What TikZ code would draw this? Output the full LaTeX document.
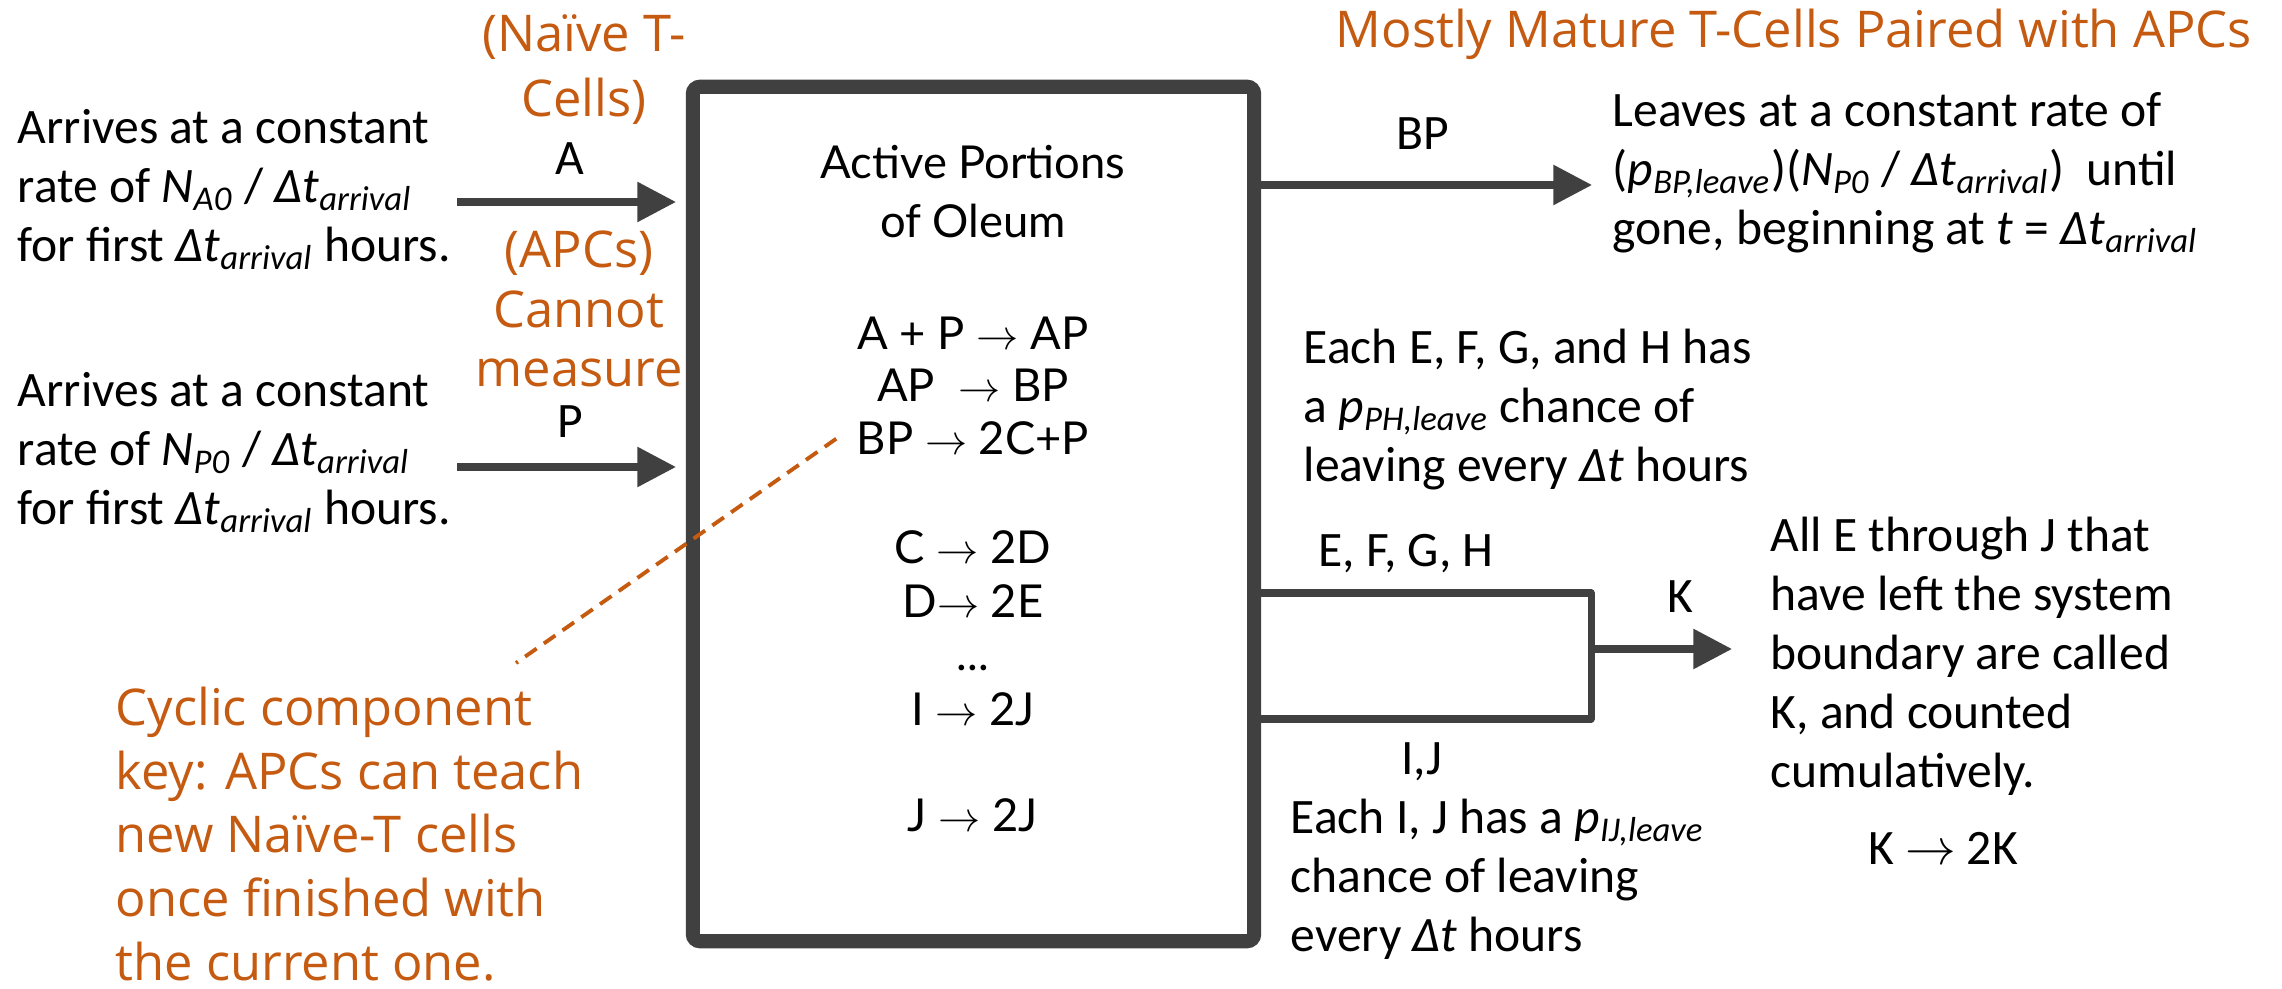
\documentclass[tikz,border=0pt]{standalone}
\usepackage{fontspec}
\setmainfont{Carlito}
\newfontfamily\orfont{Open Sans}
\newfontfamily\bxfont{Lato}
\usetikzlibrary{positioning,arrows.meta}
\definecolor{rust}{HTML}{C55A11}
\definecolor{ink}{HTML}{404040}
\newcommand{\sbs}[1]{\textsubscript{\itshape #1}}
\newcommand{\dt}{\textit{Δt}}

\tikzset{
  txt/.style={inner sep=0pt, align=left, anchor=base west, font=\fontsize{14.1}{16.8}\selectfont},
  lbl/.style={inner sep=0pt, anchor=base, font=\fontsize{14.1}{16.8}\selectfont},
  note/.style={inner sep=0pt, text=rust, font=\orfont\fontsize{14.4}{18.1}\selectfont},
  rxn/.style={inner sep=0pt, anchor=base, font=\bxfont\fontsize{12.9}{16.8}\selectfont},
  flow/.style={ink, line width=2pt, -{Triangle[length=11pt,width=11pt]}},
  pipe/.style={ink, line width=2pt, line join=round},
}

\begin{document}
\begin{tikzpicture}[x=0.01cm, y=-0.01cm]
  \useasboundingbox (0,0) rectangle (2282,989);

  % control volume (multi-line nodes sit on their last baseline)
  \node[draw=ink, line width=4pt, rounded corners=2pt, minimum width=5.61cm,
        minimum height=8.54cm, inner sep=0pt] (oleum) at (973.5,514) {};
  \node[rxn, align=center] (otitle) at (973,238) {Active Portions\\of Oleum};
  \node[rxn] (r1) at (973,350) {A + P $\rightarrow$ AP};
  \node[rxn] (r2) at (973,402) {AP~ $\rightarrow$ BP};
  \node[rxn] (r3) at (973,455) {BP $\rightarrow$ 2C+P};
  \node[rxn] (r4) at (973,564) {C $\rightarrow$ 2D};
  \node[rxn] (r5) at (973,618) {D$\rightarrow$ 2E};
  \node[rxn] (r6) at (973,671) {...};
  \node[rxn] (r7) at (973,726) {I $\rightarrow$ 2J};
  \node[rxn] (r8) at (973,832) {J $\rightarrow$ 2J};

  % inflows
  \node[txt] (arrA) at (17,262) {Arrives at a constant\\rate of \textit{N}\sbs{A0} / \dt\sbs{arrival}\\for first \dt\sbs{arrival} hours.};
  \node[txt] (arrP) at (17,525) {Arrives at a constant\\rate of \textit{N}\sbs{P0} / \dt\sbs{arrival}\\for first \dt\sbs{arrival} hours.};
  \node[note, align=center, anchor=base, font=\orfont\fontsize{14.4}{18.5}\selectfont] (naive) at (584,117) {(Naïve T-\\Cells)};
  \node[note, align=center, anchor=base, font=\orfont\fontsize{14.4}{17}\selectfont] (apc) at (579,387) {(APCs)\\Cannot\\measure};
  \node[lbl] (lA) at (570,175) {A};
  \node[lbl] (lP) at (570,438) {P};
  \coordinate (inA) at (457,202);
  \coordinate (inP) at (457,467);
  \draw[flow, shorten >=2.8pt] (inA) -- (inA -| oleum.west);
  \draw[flow, shorten >=2.8pt] (inP) -- (inP -| oleum.west);

  % outflow BP
  \node[note, anchor=base west] (mature) at (1335,48) {Mostly Mature T-Cells Paired with APCs};
  \node[lbl] (lBP) at (1423,150) {BP};
  \node[txt] (leave) at (1612,245) {Leaves at a constant rate of\\(\textit{p}\sbs{BP,leave})(\textit{N}\sbs{P0} / \dt\sbs{arrival})~~until\\gone, beginning at \textit{t} = \dt\sbs{arrival}};
  \coordinate (outBP) at (1592,185);
  \draw[flow] (oleum.east |- outBP) -- (outBP);

  % outflow K
  \node[txt] (ph) at (1303,482) {Each E, F, G, and H has\\a \textit{p}\sbs{PH,leave} chance of\\leaving every \dt{} hours};
  \node[lbl, anchor=base west] (lEFGH) at (1318,567) {E, F, G, H};
  \node[lbl] (lIJ) at (1422,775) {I,J};
  \node[txt] (pij) at (1290,952) {Each I, J has a \textit{p}\sbs{IJ,leave}\\chance of leaving\\every \dt{} hours};
  \coordinate (efgh) at (1591,593);
  \coordinate (ij) at (1591,719);
  \draw[pipe] (oleum.east |- efgh) -- (efgh) -- (ij) -- (oleum.east |- ij);
  \coordinate (outK) at (1732,649);
  \draw[flow] (outK -| efgh) -- (outK);
  \node[lbl] (lK) at (1680,613) {K};
  \node[txt] (kdesc) at (1770,788) {All E through J that\\have left the system\\boundary are called\\K, and counted\\cumulatively.};
  \node[lbl] (kk) at (1943,865) {K $\rightarrow$ 2K};

  % cyclic note
  \node[note, align=left, anchor=base west] (cyclic) at (115,980) {Cyclic component\\key: APCs can teach\\new Naïve-T cells\\once finished with\\the current one.};
  \coordinate (cycend) at (516,663);
  \draw[rust, line width=1.1pt, dash pattern=on 4pt off 2.5pt] ([xshift=-0.2cm]r3.west) -- (cycend);
\end{tikzpicture}
\end{document}
